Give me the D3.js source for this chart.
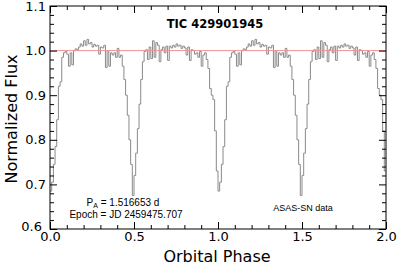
<!DOCTYPE html>
<html>
<head>
<meta charset="utf-8">
<script src="https://cdn.jsdelivr.net/npm/d3@7"></script>
<style>
html,body{margin:0;padding:0;background:#fff;}
svg{display:block;}
</style>
</head>
<body>
<svg id="chart" width="399" height="266"></svg>
<script>
// ---- data ----
const binWidth = 0.01;           // phase bin width
// normalized flux per phase bin, one orbital cycle (phase 0.00 .. 0.99)
const fluxCycle = [
  0.685,0.705,0.745,0.785,0.845,0.920,0.930,0.985,0.995,0.998,
  0.992,0.965,0.995,0.968,1.000,1.004,1.002,1.008,1.015,1.010,
  1.022,1.012,1.025,1.015,1.018,1.008,1.014,1.010,1.012,0.992,
  1.008,1.006,1.012,0.962,1.000,0.965,0.995,0.990,0.995,0.985,
  1.005,0.985,0.990,0.965,0.935,0.900,0.855,0.800,0.745,0.675,
  0.720,0.770,0.825,0.880,0.935,0.975,0.998,1.002,0.980,1.008,
  0.982,1.022,0.985,1.018,1.012,0.975,1.002,1.008,0.995,1.010,
  0.978,1.010,1.006,1.012,1.008,1.015,1.010,1.012,1.005,1.010,
  1.006,0.990,1.008,0.978,1.002,1.000,0.992,0.995,0.985,0.998,
  0.965,0.990,0.995,0.980,0.960,0.915,0.900,0.890,0.820,0.730
];
const cycles = [0, 1];
const referenceLevel = 1.0;
const xMajorTicks = [0.0, 0.5, 1.0, 1.5, 2.0];
const yMajorTicks = [0.6, 0.7, 0.8, 0.9, 1.0, 1.1];
const titleText = "TIC 429901945";
const periodLabel = {main: "P", sub: "A", rest: " = 1.516653 d"};
const epochLabel = "Epoch = JD 2459475.707";
const sourceLabel = "ASAS-SN data";
const xTitle = "Orbital Phase";
const yTitle = "Normalized Flux";

// ---- layout ----
const L = 50, R = 386, T = 6, B = 229;
const svg = d3.select("#chart");
const x = d3.scaleLinear().domain([0, 2]).range([L, R]);
const y = d3.scaleLinear().domain([0.6, 1.1]).range([B, T]);

// points for a stepped line
const pts = [];
cycles.forEach(c => fluxCycle.forEach((f, i) => pts.push([c + i * binWidth, f])));
pts.push([2.0, fluxCycle[fluxCycle.length - 1]]);

const xMinor = d3.range(0, 2.0001, 0.1).filter(v => Math.abs(v * 2 - Math.round(v * 2)) > 1e-6);
const yMinor = d3.range(0.6, 1.1001, 0.02).filter(v => Math.abs(v * 10 - Math.round(v * 10)) > 1e-6);

const line = d3.line().x(d => x(d[0])).y(d => y(d[1])).curve(d3.curveStepAfter);
svg.append("path").datum(pts)
  .attr("d", line).attr("fill", "none")
  .attr("stroke", "#8a8a8a").attr("stroke-width", 1);

svg.append("line")
  .attr("x1", L).attr("x2", R).attr("y1", y(referenceLevel)).attr("y2", y(referenceLevel))
  .attr("stroke", "#f29090").attr("stroke-width", 1);

const fontTick = "DejaVu Sans, sans-serif";
function styleAxis(g) {
  g.select(".domain").remove();
  g.selectAll(".tick line").attr("stroke", "#000").attr("stroke-width", 1);
  g.selectAll(".tick text").attr("fill", "#000").style("font-family", fontTick).style("font-size", "13px");
}
// bottom
svg.append("g").attr("transform", `translate(0,${B})`)
  .call(d3.axisBottom(x).tickValues(xMajorTicks).tickSize(-7).tickPadding(3).tickFormat(d3.format(".1f")))
  .call(styleAxis);
svg.append("g").attr("transform", `translate(0,${B})`)
  .call(d3.axisBottom(x).tickValues(xMinor).tickSize(-4).tickFormat(""))
  .call(styleAxis);
// top
svg.append("g").attr("transform", `translate(0,${T})`)
  .call(d3.axisTop(x).tickValues(xMajorTicks).tickSize(-7).tickFormat(""))
  .call(styleAxis);
svg.append("g").attr("transform", `translate(0,${T})`)
  .call(d3.axisTop(x).tickValues(xMinor).tickSize(-4).tickFormat(""))
  .call(styleAxis);
// left
const yAxisG = svg.append("g").attr("transform", `translate(${L},0)`)
  .call(d3.axisLeft(y).tickValues(yMajorTicks).tickSize(-7).tickPadding(4).tickFormat(d3.format(".1f")))
  .call(styleAxis);
// keep the bottom-most y label clear of the "0.0" x label
yAxisG.selectAll(".tick text").filter(d => d === 0.6).attr("dx", -4).attr("dy", "0.1em");
svg.append("g").attr("transform", `translate(${L},0)`)
  .call(d3.axisLeft(y).tickValues(yMinor).tickSize(-4).tickFormat(""))
  .call(styleAxis);
// right
svg.append("g").attr("transform", `translate(${R},0)`)
  .call(d3.axisRight(y).tickValues(yMajorTicks).tickSize(-7).tickFormat(""))
  .call(styleAxis);
svg.append("g").attr("transform", `translate(${R},0)`)
  .call(d3.axisRight(y).tickValues(yMinor).tickSize(-4).tickFormat(""))
  .call(styleAxis);

// frame
svg.append("rect").attr("x", L).attr("y", T).attr("width", R - L).attr("height", B - T)
  .attr("fill", "none").attr("stroke", "#000").attr("stroke-width", 1);

// texts
svg.append("text").attr("x", 215).attr("y", 28).attr("text-anchor", "middle")
  .style("font-family", fontTick).style("font-size", "11.5px").style("font-weight", "bold")
  .text(titleText);

const pt = svg.append("text").attr("x", 123).attr("y", 206).attr("text-anchor", "middle")
  .style("font-family", "Liberation Sans, Arial, sans-serif").style("font-size", "10px");
pt.append("tspan").text(periodLabel.main);
pt.append("tspan").attr("dy", 2).style("font-size", "7px").text(periodLabel.sub);
pt.append("tspan").attr("dy", -2).text(periodLabel.rest);

svg.append("text").attr("x", 126).attr("y", 218).attr("text-anchor", "middle")
  .style("font-family", "Liberation Sans, Arial, sans-serif").style("font-size", "10px")
  .text(epochLabel);

svg.append("text").attr("x", 303).attr("y", 211).attr("text-anchor", "middle")
  .style("font-family", "Liberation Sans, Arial, sans-serif").style("font-size", "9px")
  .text(sourceLabel);

svg.append("text").attr("x", 217).attr("y", 262).attr("text-anchor", "middle")
  .style("font-family", fontTick).style("font-size", "16px")
  .text(xTitle);

svg.append("text").attr("transform", "translate(17,119) rotate(-90)").attr("text-anchor", "middle")
  .style("font-family", fontTick).style("font-size", "16px")
  .text(yTitle);
</script>
</body>
</html>
